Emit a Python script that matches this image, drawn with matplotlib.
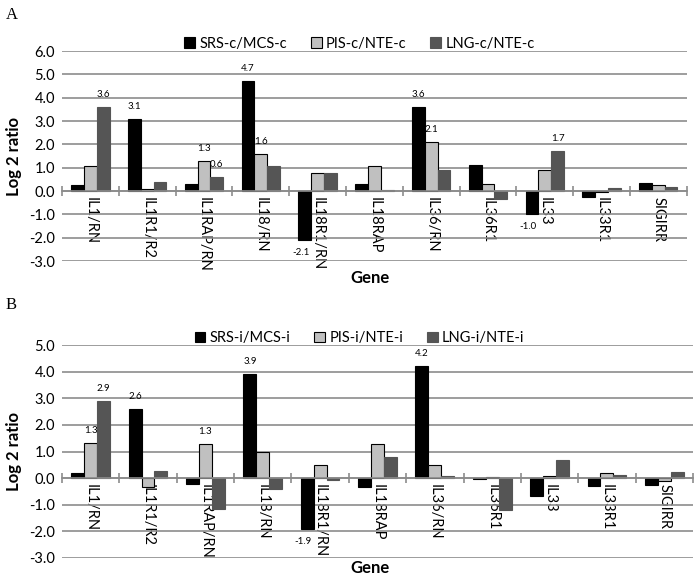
import matplotlib
matplotlib.use("Agg")
import matplotlib.pyplot as plt
import numpy as np
from matplotlib.ticker import FixedLocator

genes = ["IL1/RN", "IL1R1/R2", "IL1RAP/RN", "IL18/RN", "IL18R1/RN", "IL18RAP",
         "IL36/RN", "IL36R1", "IL33", "IL33R1", "SIGIRR"]

# Panel A
series_a = ["SRS-c/MCS-c", "PIS-c/NTE-c", "LNG-c/NTE-c"]
srs_c = [0.26, 3.1, 0.30, 4.7, -2.1, 0.28, 3.6, 1.11, -1.0, -0.24, 0.33]
pis_c = [1.07, 0.07, 1.3, 1.57, 0.78, 1.07, 2.1, 0.28, 0.90, -0.06, 0.24]
lng_c = [3.6, 0.37, 0.6, 1.08, 0.77, 0.05, 0.90, -0.36, 1.7, 0.11, 0.17]
labels_a = [(0, 2), (1, 0), (2, 1), (2, 2), (3, 0), (3, 1), (4, 0), (6, 0), (6, 1), (8, 0), (8, 2)]

# Panel B
series_b = ["SRS-i/MCS-i", "PIS-i/NTE-i", "LNG-i/NTE-i"]
srs_i = [0.20, 2.6, -0.22, 3.9, -1.9, -0.34, 4.2, -0.04, -0.69, -0.29, -0.25]
pis_i = [1.33, -0.34, 1.3, 0.99, 0.50, 1.27, 0.50, 0.06, 0.08, 0.21, -0.09]
lng_i = [2.9, 0.26, -1.16, -0.40, -0.06, 0.80, 0.09, -1.21, 0.68, 0.11, 0.23]
labels_b = [(0, 1), (0, 2), (1, 0), (2, 1), (3, 0), (4, 0), (6, 0)]

colors = ["#000000", "#c0c0c0", "#555555"]
edges = ["#000000", "#000000", "#555555"]
FONT = "Lato"
grid_c = "#8c8c8c"

fig = plt.figure(figsize=(6.98, 5.85), dpi=100)


def panel(rect, data, names, ylim, labels, letter, letter_y, leg_y, gene_y):
    ax = fig.add_axes(rect)
    x = np.arange(len(genes))
    w = 0.225
    handles = []
    for k, (vals, nm) in enumerate(zip(data, names)):
        b = ax.bar(x + (k - 1) * w, vals, w, color=colors[k], edgecolor=edges[k],
                   linewidth=0.8, label=nm, zorder=3)
        handles.append(b)
    for gi, si in labels:
        v = data[si][gi]
        off = (0, 9) if v > 0 else (-3, -9)
        ax.annotate(f"{v:.1f}", (x[gi] + (si - 1) * w, v), xytext=off,
                    textcoords="offset points", ha="center", va="center",
                    fontsize=7, family=FONT, zorder=5)
    ax.set_xlim(-0.5, len(genes) - 0.5)
    ax.set_ylim(*ylim)
    ticks = np.arange(ylim[0], ylim[1] + 0.01, 1.0)
    ax.set_yticks(ticks)
    ax.set_yticklabels([f"{t:.1f}" for t in ticks], family=FONT, fontsize=10.5)
    ax.tick_params(axis="y", length=0, pad=5)
    ax.grid(axis="y", color=grid_c, linewidth=1.2, zorder=0)
    for s in ["left", "right", "top"]:
        ax.spines[s].set_visible(False)
    ax.spines["bottom"].set_position(("data", 0))
    ax.spines["bottom"].set_color(grid_c)
    ax.spines["bottom"].set_linewidth(1.2)
    ax.spines["bottom"].set_zorder(4)
    ax.set_xticks(x)
    ax.set_xticklabels(genes, rotation=-90, family=FONT, fontsize=10.5, va="top", ha="center")
    ax.tick_params(axis="x", which="major", length=0, pad=4)
    ax.xaxis.set_minor_locator(FixedLocator(np.arange(-0.5, len(genes), 1.0)))
    ax.tick_params(axis="x", which="minor", length=7, direction="inout", color=grid_c, width=1.2)
    ax.set_ylabel("Log 2 ratio", family=FONT, fontsize=12, fontweight="bold", labelpad=5)
    fig.text(0.53, gene_y, "Gene", family=FONT, fontsize=12, fontweight="bold",
             ha="center", va="center")
    fig.text(0.008, letter_y, letter, family="Liberation Serif", fontsize=12, va="center")
    fig.legend(handles=handles, labels=names, loc="center", bbox_to_anchor=(0.515, leg_y),
               ncol=3, frameon=False, prop={"family": FONT, "size": 10.5},
               handlelength=0.75, handleheight=0.75, handletextpad=0.3, columnspacing=1.6)
    return ax


panel([0.0888, 0.5538, 0.895, 0.359], [srs_c, pis_c, lng_c], series_a, (-3, 6),
      labels_a, "A", 0.975, 0.925, 0.525)
panel([0.0888, 0.0462, 0.904, 0.364], [srs_i, pis_i, lng_i], series_b, (-3, 5),
      labels_b, "B", 0.478, 0.422, 0.029)

fig.savefig("out.png", dpi=100)
